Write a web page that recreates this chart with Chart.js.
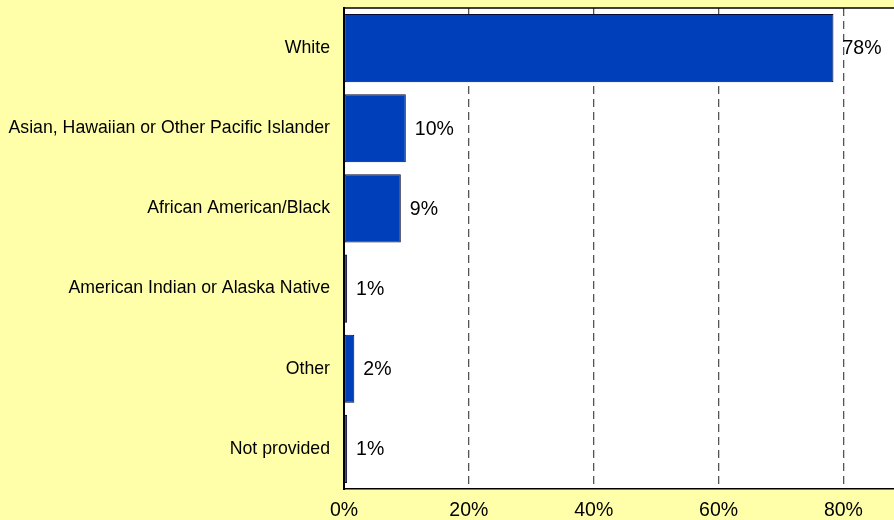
<!DOCTYPE html>
<html>
<head>
<meta charset="utf-8">
<script src="https://cdn.jsdelivr.net/npm/chart.js@4/dist/chart.umd.min.js"></script>
<style>
  html, body { margin: 0; padding: 0; background: #FFFFAA; overflow: hidden; }
  canvas { display: block; }
</style>
</head>
<body>
<canvas id="grafico" width="894" height="520"></canvas>
<script>
// Categorias y valores
const categorias = [
  'White',
  'Asian, Hawaiian or Other Pacific Islander',
  'African American/Black',
  'American Indian or Alaska Native',
  'Other',
  'Not provided'
];
const valores = [78.4, 9.9, 9.1, 0.5, 1.65, 0.5];
const etiquetasValor = ['78%', '10%', '9%', '1%', '2%', '1%'];
const ticksX = [0, 20, 40, 60, 80];

const fuente = '"Liberation Sans", Arial, sans-serif';

// Fondo blanco del area de trazado y borde superior
const fondoArea = {
  id: 'fondoArea',
  beforeDraw(chart) {
    const { ctx, chartArea: a } = chart;
    ctx.save();
    ctx.fillStyle = '#FFFFFF';
    ctx.fillRect(a.left, a.top, a.right - a.left, a.bottom - a.top);
    ctx.restore();
  },
  afterDraw(chart) {
    const { ctx, chartArea: a } = chart;
    ctx.save();
    ctx.strokeStyle = '#000';
    ctx.lineWidth = 1.5;
    ctx.beginPath();
    ctx.moveTo(a.left, a.top);
    ctx.lineTo(a.right, a.top);
    ctx.stroke();
    ctx.restore();
  }
};

// Etiquetas de valor al final de cada barra
const etiquetas = {
  id: 'etiquetas',
  afterDatasetsDraw(chart) {
    const { ctx } = chart;
    const meta = chart.getDatasetMeta(0);
    ctx.save();
    ctx.fillStyle = '#000';
    ctx.font = '19.5px ' + fuente;
    ctx.textAlign = 'left';
    ctx.textBaseline = 'middle';
    meta.data.forEach((barra, i) => {
      ctx.fillText(etiquetasValor[i], barra.x + 9, barra.y + 1);
    });
    ctx.restore();
  }
};

new Chart(document.getElementById('grafico'), {
  type: 'bar',
  data: {
    labels: categorias,
    datasets: [{
      data: valores,
      backgroundColor: '#003FBA',
      borderColor: '#0A0A30',
      borderWidth: 1,
      borderSkipped: false,
      barPercentage: 0.85,
      categoryPercentage: 1
    }]
  },
  options: {
    indexAxis: 'y',
    responsive: false,
    animation: false,
    layout: { padding: { top: 8, left: 0, right: 0, bottom: 0 } },
    plugins: {
      legend: { display: false },
      tooltip: { enabled: false }
    },
    scales: {
      x: {
        min: 0,
        max: 88.1,
        afterFit(scale) {
          scale.height = 31;
          scale.paddingLeft = 0;
          scale.paddingRight = 0;
        },
        afterBuildTicks(scale) { scale.ticks = ticksX.map(v => ({ value: v })); },
        ticks: {
          includeBounds: false,
          color: '#000',
          padding: 10,
          maxRotation: 0,
          font: { family: fuente, size: 19.5 },
          callback: v => v + '%'
        },
        grid: {
          drawTicks: false,
          color: ctx => (ctx.tick && ctx.tick.value > 0) ? '#555' : 'rgba(0,0,0,0)',
          lineWidth: 1.3
        },
        border: { display: true, color: '#000', width: 1.5, dash: [8, 5] }
      },
      y: {
        afterFit(scale) {
          scale.width = 344;
          scale.paddingTop = 0;
          scale.paddingBottom = 0;
        },
        ticks: {
          color: '#000',
          padding: 14,
          font: { family: fuente, size: 17.7 }
        },
        grid: { display: false, drawTicks: false },
        border: { display: true, color: '#000', width: 2 }
      }
    }
  },
  plugins: [fondoArea, etiquetas]
});
</script>
</body>
</html>
